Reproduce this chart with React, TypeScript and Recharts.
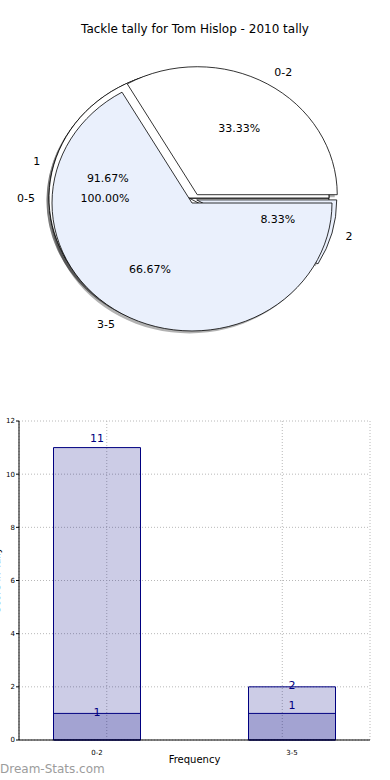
import React from "react";
import { PieChart, Pie, Cell, BarChart, Bar, XAxis, YAxis, CartesianGrid, LabelList } from "recharts";

// pie layers, bottom to top
const allNames = ["0-5"];
const allValues = [1];
const splitNames = ["1", "2"];
const splitValues = [11, 1];
const rangeNames = ["0-2", "3-5"];
const rangeValues = [1, 2];

// bar chart
const barCategories = ["0-2", "3-5"];
const totalCounts = [11, 2];
const lowCounts = [1, 1];
const totalLabelLift = [9, 1];
const lowLabelLift = [1, 8];
const yTicks = [0, 2, 4, 6, 8, 10, 12];

const FONT = "'DejaVu Sans', Verdana, sans-serif";
const WHITE = "#ffffff";
const PALE = "#eaf0fc";
const NAVY = "#000080";
const RATIO = 0.914;

const explodeBy: Record<string, number> = { "2": 8, "0-2": 10.5 };

const toRows = (names: string[], values: number[]) =>
  names.map((name, i) => ({ name, value: values[i] }));

const allData = toRows(allNames, allValues);
const splitData = toRows(splitNames, splitValues);
const rangeData = toRows(rangeNames, rangeValues);

const barData = barCategories.map((name, i) => ({
  x: i,
  name,
  total: totalCounts[i],
  low: lowCounts[i],
}));

const RAD = Math.PI / 180;

const shift = (name: string, mid: number) => {
  const e = explodeBy[name] || 0;
  return { dx: e * Math.cos(mid * RAD), dy: -e * Math.sin(mid * RAD) * RATIO };
};

const ellipsePath = (cx: number, cy: number, rx: number, ry: number, a0: number, a1: number) => {
  const lo = Math.min(a0, a1);
  const hi = Math.max(a0, a1);
  if (hi - lo >= 359.99) {
    return `M${cx},${cy} L${cx + rx},${cy} A${rx},${ry} 0 1 0 ${cx - rx},${cy} A${rx},${ry} 0 1 0 ${cx + rx},${cy} Z`;
  }
  const x0 = cx + rx * Math.cos(lo * RAD);
  const y0 = cy - ry * Math.sin(lo * RAD);
  const x1 = cx + rx * Math.cos(hi * RAD);
  const y1 = cy - ry * Math.sin(hi * RAD);
  const large = hi - lo > 180 ? 1 : 0;
  return `M${cx},${cy} L${x0},${y0} A${rx},${ry} 0 ${large} 0 ${x1},${y1} Z`;
};

const wedge = (mode: "shadow" | "face" | "none") => (props: any) => {
  if (mode === "none") return <g />;
  const { cx, cy, outerRadius, startAngle, endAngle, midAngle, fill, name, payload } = props;
  const key = name ?? payload?.name;
  const { dx, dy } = shift(key, midAngle);
  const d = ellipsePath(cx + dx, cy + dy, outerRadius, outerRadius * RATIO, startAngle, endAngle);
  if (mode === "shadow") {
    return <path d={d} transform="translate(-2.5,2.5)" fill="#000" fillOpacity={0.3} stroke="none" />;
  }
  return <path d={d} fill={fill} stroke="#000" strokeWidth={0.8} strokeLinejoin="round" />;
};

const sliceLabel = (props: any) => {
  const { cx, cy, midAngle, outerRadius, percent, name, payload } = props;
  const key = name ?? payload?.name;
  const { dx, dy } = shift(key, midAngle);
  const c = Math.cos(midAngle * RAD);
  const s = Math.sin(midAngle * RAD);
  const r = outerRadius;
  return (
    <g>
      <text
        x={cx + dx + 1.1 * r * c}
        y={cy + dy - 1.1 * r * RATIO * s}
        textAnchor={c > 0.001 ? "start" : c < -0.001 ? "end" : "middle"}
        dominantBaseline="central"
        fontSize={11}
        fontFamily={FONT}
        fill="#000"
      >
        {key}
      </text>
      <text
        x={cx + dx + 0.6 * r * c}
        y={cy + dy - 0.6 * r * RATIO * s}
        textAnchor="middle"
        dominantBaseline="central"
        fontSize={11}
        fontFamily={FONT}
        fill="#000"
      >
        {(percent * 100).toFixed(2) + "%"}
      </text>
    </g>
  );
};

const layers = [
  { id: "all", data: allData, cx: 189, cy: 198, colors: [WHITE] },
  { id: "split", data: splitData, cx: 189, cy: 198, colors: [WHITE, PALE] },
  { id: "range", data: rangeData, cx: 192, cy: 203, colors: [WHITE, PALE] },
];

const renderPie = (layer: any, mode: "shadow" | "face" | "none") => {
  const shape = wedge(mode);
  return (
    <Pie
      key={`${layer.id}-${mode}`}
      data={layer.data}
      dataKey="value"
      nameKey="name"
      cx={layer.cx}
      cy={layer.cy}
      outerRadius={140}
      startAngle={0}
      endAngle={360}
      stroke="none"
      shape={shape}
      activeShape={shape}
      inactiveShape={shape}
      label={mode === "none" ? sliceLabel : false}
      labelLine={false}
      isAnimationActive={false}
    >
      {layer.data.map((_: any, i: number) => (
        <Cell key={i} fill={layer.colors[i]} />
      ))}
    </Pie>
  );
};

const barLabel = (lift: number[]) => (props: any) => {
  const { x, y, width, value, index } = props;
  return (
    <text
      x={x + width / 2}
      y={y - lift[index]}
      textAnchor="middle"
      dominantBaseline="central"
      fontSize={11}
      fontFamily={FONT}
      fill={NAVY}
    >
      {value}
    </text>
  );
};

export default function App() {
  return (
    <div style={{ position: "absolute", left: 0, top: 0, width: 390, height: 780, background: "#fff", overflow: "hidden", fontFamily: FONT }}>
      <div style={{ position: "absolute", left: 0, top: 22, width: 390, textAlign: "center", fontSize: 12, color: "#000" }}>
        Tackle tally for Tom Hislop - 2010 tally
      </div>
      <div style={{ position: "absolute", left: 0, top: 0 }}>
        <PieChart width={390} height={370} margin={{ top: 0, right: 0, bottom: 0, left: 0 }}>
          {layers.map((l) => renderPie(l, "shadow"))}
          {layers.map((l) => renderPie(l, "face"))}
          {layers.map((l) => renderPie(l, "none"))}
        </PieChart>
      </div>
      <div style={{ position: "absolute", left: 0, top: 410 }}>
        <BarChart width={390} height={370} data={barData} margin={{ top: 11, right: 20, bottom: 24, left: 0 }}>
          <CartesianGrid stroke="#b8b8b8" strokeDasharray="1 2" />
          <XAxis
            xAxisId="a"
            dataKey="x"
            type="number"
            domain={[-0.4, 1.4]}
            ticks={[0, 1]}
            tickFormatter={(v: number) => barCategories[v]}
            tick={{ fontSize: 7, fill: "#000", fontFamily: FONT }}
            tickLine={false}
            tickMargin={4}
            axisLine={{ stroke: "#000" }}
            height={16}
            label={{ value: "Frequency", position: "bottom", offset: 0, fontSize: 10, fill: "#000", fontFamily: FONT }}
          />
          <XAxis xAxisId="b" dataKey="x" type="number" domain={[-0.4, 1.4]} hide />
          <XAxis xAxisId="top" orientation="top" type="number" domain={[-0.4, 1.4]} tick={false} tickLine={false} height={0} axisLine={{ stroke: "#000" }} />
          <YAxis
            domain={[0, 12]}
            ticks={yTicks}
            width={19}
            tick={{ fontSize: 7, fill: "#000", fontFamily: FONT }}
            tickSize={3}
            tickMargin={1}
            tickLine={{ stroke: "#000" }}
            axisLine={{ stroke: "#000" }}
            label={(p: any) => (
              <text
                x={-4}
                y={170}
                transform="rotate(-90, -4, 170)"
                textAnchor="middle"
                dominantBaseline="central"
                fontSize={10}
                fontFamily={FONT}
                fill="#000"
              >
                Score in Tally
              </text>
            )}
          />
          <YAxis yAxisId="right" orientation="right" domain={[0, 12]} tick={false} tickLine={false} width={0} axisLine={{ stroke: "#000" }} />
          <Bar xAxisId="a" dataKey="total" barSize={87} fill={NAVY} fillOpacity={0.2} stroke={NAVY} strokeWidth={1} isAnimationActive={false}>
            <LabelList dataKey="total" content={barLabel(totalLabelLift)} />
          </Bar>
          <Bar xAxisId="b" dataKey="low" barSize={87} fill={NAVY} fillOpacity={0.2} stroke={NAVY} strokeWidth={1} isAnimationActive={false}>
            <LabelList dataKey="low" content={barLabel(lowLabelLift)} />
          </Bar>
        </BarChart>
      </div>
      <div style={{ position: "absolute", left: 0, top: 762, fontSize: 12, color: "#9c9c9c" }}>
        Dream-Stats.com
      </div>
    </div>
  );
}
